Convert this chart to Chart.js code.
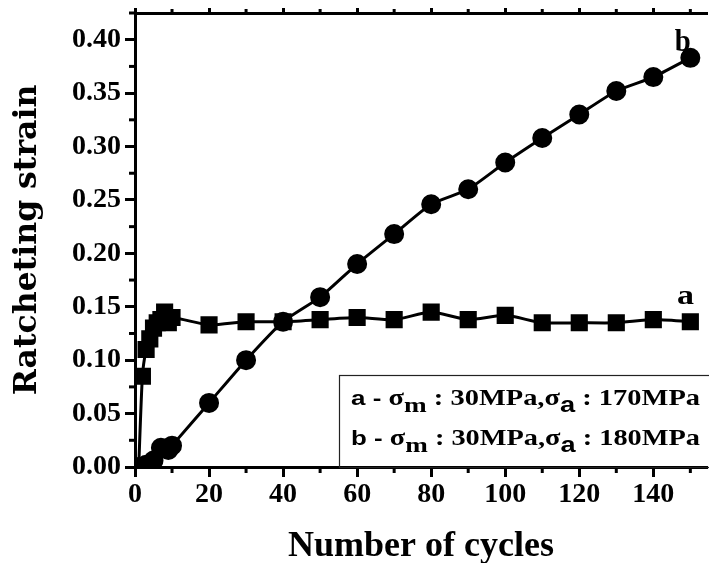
<!DOCTYPE html>
<html>
<head>
<meta charset="utf-8">
<script src="https://cdn.jsdelivr.net/npm/chart.js@4.4.0/dist/chart.umd.min.js"></script>
<style>
  body { margin: 0; background: #fff; overflow: hidden; }
  #wrap { width: 720px; height: 563px; }
</style>
</head>
<body>
<div id="wrap"><canvas id="strainChart" width="720" height="563"></canvas></div>
<script>
// cycles and ratcheting strain
const cyclesA = [1, 2, 3, 4, 5, 6, 7, 8, 9, 10, 20, 30, 40, 50, 60, 70, 80, 90, 100, 110, 120, 130, 140, 150];
const strainA = [0, 0.085, 0.11, 0.12, 0.13, 0.135, 0.138, 0.145, 0.135, 0.14, 0.133, 0.136, 0.136, 0.138, 0.14, 0.138, 0.145, 0.138, 0.142, 0.135, 0.135, 0.135, 0.138, 0.136];

const cyclesB = [1, 3, 5, 7, 9, 10, 20, 30, 40, 50, 60, 70, 80, 90, 100, 110, 120, 130, 140, 150];
const strainB = [0, 0.002, 0.006, 0.018, 0.016, 0.02, 0.06, 0.1, 0.136, 0.159, 0.19, 0.218, 0.246, 0.26, 0.285, 0.308, 0.33, 0.352, 0.365, 0.383];

const xTicks = [0, 20, 40, 60, 80, 100, 120, 140];
const yTicks = [0, 0.05, 0.10, 0.15, 0.20, 0.25, 0.30, 0.35, 0.40];

const legendRows = [
    { curve: 'a', sigmaM: '30MPa', sigmaA: '170MPa' },
    { curve: 'b', sigmaM: '30MPa', sigmaA: '180MPa' }
];

const serif = "'Liberation Serif', 'Times New Roman', serif";
const sans = "'Liberation Sans', Arial, sans-serif";

function toPoints(xs, ys) {
    return xs.map((x, i) => ({ x: x, y: ys[i] }));
}

// draws text pieces in a row, squeezed/stretched to a target width
function drawRow(ctx, parts, x, base, width) {
    let natural = 0;
    parts.forEach(p => { ctx.font = p.font; natural += ctx.measureText(p.text).width; });
    const k = width / natural;
    ctx.save();
    ctx.translate(x, base);
    ctx.scale(k, 1);
    let cx = 0;
    parts.forEach(p => {
        ctx.font = p.font;
        ctx.fillText(p.text, cx, p.dy || 0);
        cx += ctx.measureText(p.text).width;
    });
    ctx.restore();
}

// minor ticks, the curve letters and the boxed legend
const extras = {
    id: 'extras',
    afterDraw(chart) {
        const ctx = chart.ctx;
        const xs = chart.scales.x, ys = chart.scales.y;
        const area = chart.chartArea;
        ctx.save();
        ctx.strokeStyle = '#000';
        ctx.lineWidth = 3;
        // minor ticks
        for (let v = 10; v <= 150; v += 20) {
            const px = xs.getPixelForValue(v);
            ctx.beginPath(); ctx.moveTo(px, area.bottom); ctx.lineTo(px, area.bottom + 6); ctx.stroke();
            ctx.beginPath(); ctx.moveTo(px, area.top); ctx.lineTo(px, area.top - 4); ctx.stroke();
        }
        for (let v = 0.025; v < 0.425; v += 0.05) {
            const py = ys.getPixelForValue(v);
            ctx.beginPath(); ctx.moveTo(area.left, py); ctx.lineTo(area.left - 6, py); ctx.stroke();
        }

        // curve letters
        ctx.fillStyle = '#000';
        ctx.textAlign = 'left';
        ctx.textBaseline = 'alphabetic';
        drawRow(ctx, [{ text: 'a', font: 'bold 27px ' + serif }], xs.getPixelForValue(146.4), ys.getPixelForValue(0.153), 17);
        drawRow(ctx, [{ text: 'b', font: 'bold 32px ' + serif }], xs.getPixelForValue(145.8), ys.getPixelForValue(0.389), 16);

        // legend box
        const bx = 339, by = 375;
        ctx.lineWidth = 1.2;
        ctx.strokeStyle = '#222';
        ctx.strokeRect(bx + 0.5, by + 0.5, 400, area.bottom - by);
        legendRows.forEach((r, i) => {
            const base = 405 + i * 40;
            drawRow(ctx, [
                { text: r.curve + ' - ', font: 'bold 21px ' + sans },
                { text: 'σ', font: 'bold 23px ' + serif },
                { text: 'm', font: 'bold 22px ' + serif, dy: 7 },
                { text: ' : ' + r.sigmaM + ',σ', font: 'bold 23px ' + serif },
                { text: 'a', font: 'bold 22px ' + sans, dy: 7 },
                { text: ' : ' + r.sigmaA, font: 'bold 23px ' + serif }
            ], 351, base, 349);
        });
        ctx.restore();
    }
};

const ctx = document.getElementById('strainChart').getContext('2d');
const strainChart = new Chart(ctx, {
    type: 'line',
    data: {
        datasets: [
            {
                label: 'a',
                data: toPoints(cyclesA, strainA),
                borderColor: '#000',
                backgroundColor: '#000',
                borderWidth: 3,
                pointStyle: 'rect',
                pointRadius: 10,
                pointHoverRadius: 10,
                tension: 0.2
            },
            {
                label: 'b',
                data: toPoints(cyclesB, strainB),
                borderColor: '#000',
                backgroundColor: '#000',
                borderWidth: 3,
                pointStyle: 'circle',
                pointRadius: 8.5,
                pointHoverRadius: 8.5,
                tension: 0.2
            }
        ]
    },
    options: {
        responsive: false,
        animation: false,
        layout: { padding: 0 },
        plugins: {
            legend: { display: false },
            tooltip: { enabled: false }
        },
        scales: {
            x: {
                type: 'linear',
                position: 'bottom',
                min: 0,
                max: 154.5,
                afterFit(scale) {
                    scale.height = 96;
                    scale.paddingLeft = 0;
                    scale.paddingRight = 0;
                },
                afterBuildTicks(scale) { scale.ticks = xTicks.map(v => ({ value: v })); },
                border: { color: '#000', width: 3 },
                grid: { drawOnChartArea: false, color: '#000', tickLength: 10, tickWidth: 3 },
                ticks: {
                    color: '#000',
                    padding: 1,
                    font: { family: serif, size: 28, weight: 'bold' }
                },
                title: {
                    display: true,
                    text: 'Number of cycles',
                    color: '#000',
                    padding: 0,
                    font: { family: serif, size: 36, weight: 'bold', lineHeight: 0.9 }
                }
            },
            xTop: {
                type: 'linear',
                position: 'top',
                min: 0,
                max: 154.5,
                afterFit(scale) { scale.height = 13; },
                afterBuildTicks(scale) { scale.ticks = xTicks.map(v => ({ value: v })); },
                border: { color: '#000', width: 3 },
                grid: { drawOnChartArea: false, color: '#000', tickLength: 5, tickWidth: 3 },
                ticks: { display: false }
            },
            y: {
                type: 'linear',
                min: 0,
                max: 0.425,
                afterFit(scale) {
                    scale.width = 135;
                    scale.paddingTop = 0;
                    scale.paddingBottom = 0;
                },
                afterBuildTicks(scale) { scale.ticks = yTicks.map(v => ({ value: v })); },
                border: { color: '#000', width: 3 },
                grid: { drawOnChartArea: false, color: '#000', tickLength: 10, tickWidth: 3 },
                ticks: {
                    color: '#000',
                    padding: 4,
                    font: { family: serif, size: 28, weight: 'bold' },
                    callback: v => v.toFixed(2)
                },
                title: {
                    display: true,
                    text: 'Ratcheting strain',
                    color: '#000',
                    padding: { top: 9, bottom: 0 },
                    font: { family: "'DejaVu Serif', serif", size: 31.5, weight: 'bold' }
                }
            }
        }
    },
    plugins: [extras]
});
</script>
</body>
</html>
